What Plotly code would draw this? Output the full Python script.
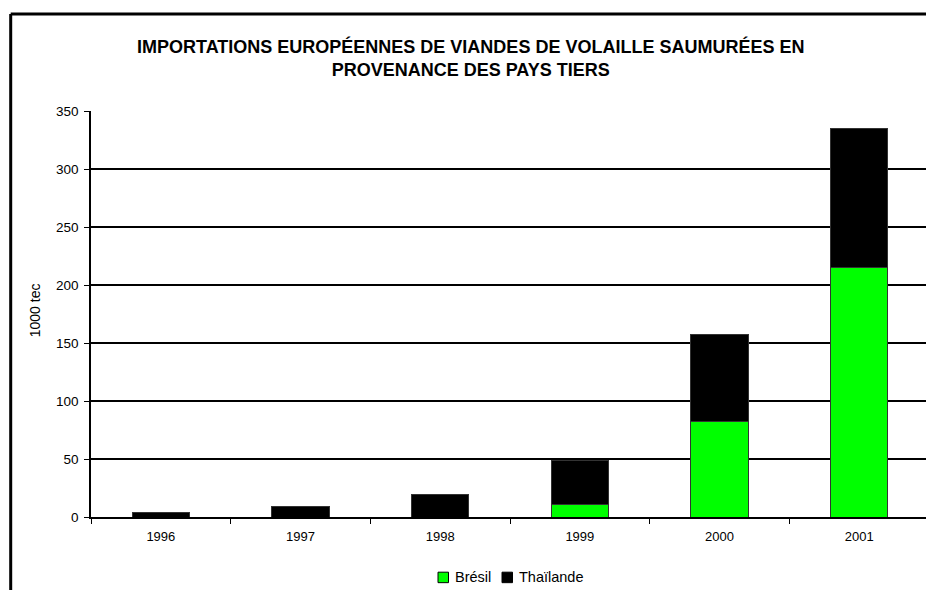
import plotly.graph_objects as go

years = ["1996", "1997", "1998", "1999", "2000", "2001"]
bresil = [0, 0, 0, 11, 82, 215]
thailande = [4, 9, 19.5, 38, 75, 120]
series_names = ["Brésil", "Thaïlande"]
series_colors = ["#00FF00", "#000000"]

title_text = "IMPORTATIONS EUROPÉENNES DE VIANDES DE VOLAILLE SAUMURÉES EN<br>PROVENANCE DES PAYS TIERS"
y_label = "1000 tec"
font_family = "Liberation Sans, Arial, sans-serif"

fig = go.Figure()
for name, vals, col in zip(series_names, [bresil, thailande], series_colors):
    fig.add_trace(go.Bar(name=name, x=years, y=vals,
                         marker=dict(color=col, line=dict(color="#333333", width=1))))

# page is offset by the 8px body margin; figure coords = page coords - 8
W, H = 934, 590
L, R, T, B = 83, 13, 102.5, 81
pw = W - L - R
ph = H - T - B


def px(fx):
    return (fx - L) / pw


def py(fy):
    return (H - B - fy) / ph


fig.update_layout(
    width=W, height=H,
    barmode="stack",
    bargap=0.59,
    plot_bgcolor="white",
    paper_bgcolor="white",
    margin=dict(l=L, r=R, t=T, b=B, pad=0),
    font=dict(family=font_family, size=13, color="black"),
    showlegend=False,
    xaxis=dict(type="category", showline=True, linecolor="black", linewidth=1.5,
               ticks="outside", tickson="boundaries", ticklen=5, tickcolor="black",
               tickwidth=1, showgrid=False, tickfont=dict(size=13), ticklabelstandoff=7),
    yaxis=dict(range=[0, 350], dtick=50, showline=True, linecolor="black", linewidth=1.5,
               ticks="outside", ticklen=5, tickcolor="black", tickwidth=1,
               showgrid=True, gridcolor="black", gridwidth=1.5, zeroline=False,
               tickfont=dict(size=13.5), ticklabelstandoff=3),
)

# title
fig.add_annotation(text="<b>" + title_text + "</b>", xref="paper", yref="paper",
                   x=px(462), y=py(49.5), showarrow=False, xanchor="center", yanchor="middle",
                   font=dict(size=18, color="black"))

# y axis label
fig.add_annotation(text=y_label, xref="paper", yref="paper",
                   x=px(27), y=py(302), textangle=-90,
                   showarrow=False, font=dict(size=14), xanchor="center", yanchor="middle")

# custom legend
leg_y = 569.5
sq = 10.5
for name, col, sx, tx in zip(series_names, series_colors, [430, 494], [445, 509]):
    fig.add_shape(type="rect", xref="paper", yref="paper",
                  x0=px(sx), x1=px(sx + sq), y0=py(leg_y - sq / 2), y1=py(leg_y + sq / 2),
                  fillcolor=col, line=dict(color="black", width=1))
    fig.add_annotation(text=name, xref="paper", yref="paper", x=px(tx), y=py(leg_y),
                       showarrow=False, xanchor="left", yanchor="middle",
                       font=dict(size=14.5))

# outer frame (left and top edges visible)
fx = px(2.7)
fy = py(5.5)
fig.add_shape(type="line", xref="paper", yref="paper", x0=fx, x1=fx, y0=fy, y1=py(700),
              line=dict(color="black", width=3))
fig.add_shape(type="line", xref="paper", yref="paper", x0=fx, x1=px(1000), y0=fy, y1=fy,
              line=dict(color="black", width=3))

fig.write_html("out.html")
